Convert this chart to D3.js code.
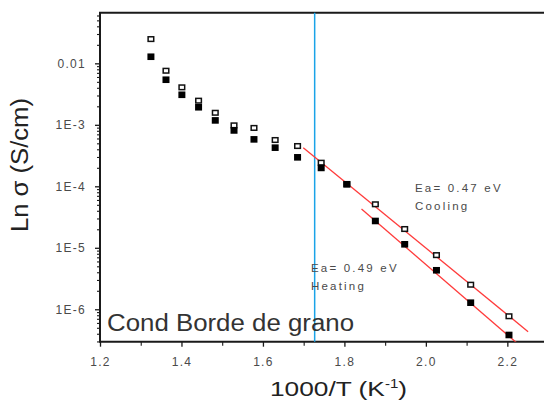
<!DOCTYPE html>
<html>
<head>
<meta charset="utf-8">
<script src="https://cdn.jsdelivr.net/npm/d3@7"></script>
<style>
  html, body { margin: 0; padding: 0; background: #fff; }
  svg { display: block; font-family: 'Liberation Sans', Arial, sans-serif; }
</style>
</head>
<body>
<div id="chart"></div>
<script>
// 1000/T values shared by both runs
const invT = [1.325, 1.362, 1.401, 1.442, 1.483, 1.529, 1.578, 1.630, 1.685, 1.743, 1.806, 1.876, 1.948, 2.026, 2.110, 2.204]
const heating = [1.28e-2, 5.41e-3, 3.08e-3, 1.93e-3, 1.18e-3, 8.1e-4, 5.8e-4, 4.25e-4, 2.96e-4, 1.99e-4, 1.08e-4, 2.73e-5, 1.14e-5, 4.31e-6, 1.28e-6, 3.82e-7]
const cooling = [2.48e-2, 7.58e-3, 4.07e-3, 2.47e-3, 1.57e-3, 9.8e-4, 8.9e-4, 5.66e-4, 4.52e-4, 2.42e-4, 1.08e-4, 5.1e-5, 2.02e-5, 7.6e-6, 2.51e-6, 7.7e-7]
// linear fits (end points)
const fitCooling = [[1.699, 4.24e-4], [2.251, 4.33e-7]]
const fitHeating = [[1.842, 4.27e-5], [2.236, 2.4e-7]]
const transitionT = 1.727
const xTicks = [1.2, 1.4, 1.6, 1.8, 2.0, 2.2]
const xMinor = [1.3, 1.5, 1.7, 1.9, 2.1]
const yTicks = [1e-2, 1e-3, 1e-4, 1e-5, 1e-6]
const yTickLabels = ['0.01', '1E-3', '1E-4', '1E-5', '1E-6']

const W = 544, H = 401
const pLeft = 100, pTop = 12.7, pRight = 544, pBottom = 341.7

const svg = d3.select('#chart').append('svg')
  .attr('width', W)
  .attr('height', H)

const x = d3.scaleLinear().domain([1.2, 2.29]).range([pLeft, pRight])
const y = d3.scaleLog().domain([2.97e-7, 0.0666]).range([pBottom, pTop])

svg.append('clipPath').attr('id', 'plot')
  .append('rect')
  .attr('x', pLeft).attr('y', pTop)
  .attr('width', pRight - pLeft).attr('height', pBottom - pTop)

// minor log ticks 2..9 per decade
let yMinor = []
for (let e = -7; e <= -2; e++) {
  for (let m = 2; m <= 9; m++) {
    let v = m * Math.pow(10, e)
    if (v > y.domain()[0] && v < y.domain()[1]) yMinor.push(v)
  }
}

const axisColor = '#1a1a1a'
const labelColor = '#4a4a4a'

// y axis
let yAxis = svg.append('g')
  .attr('transform', `translate(${pLeft},0)`)
  .call(d3.axisLeft(y).tickValues(yTicks).tickSize(5).tickFormat((d, i) => yTickLabels[i]))
yAxis.select('.domain').remove()
yAxis.selectAll('line').attr('stroke', axisColor).attr('stroke-width', 1.3)
yAxis.selectAll('text')
  .attr('x', -14)
  .attr('fill', labelColor)
  .style('font-size', '12px')
  .style('letter-spacing', '1.3px')
  .style('font-family', 'Liberation Sans, Arial, sans-serif')
svg.append('g')
  .attr('transform', `translate(${pLeft},0)`)
  .call(d3.axisLeft(y).tickValues(yMinor).tickSize(3).tickFormat(''))
  .call(g => g.select('.domain').remove())
  .selectAll('line').attr('stroke', axisColor).attr('stroke-width', 1.1)

// x axis
let xAxis = svg.append('g')
  .attr('transform', `translate(0,${pBottom})`)
  .call(d3.axisBottom(x).tickValues(xTicks).tickSize(5).tickFormat(d3.format('.1f')))
xAxis.select('.domain').remove()
xAxis.selectAll('line').attr('stroke', axisColor).attr('stroke-width', 1.3)
xAxis.selectAll('text')
  .attr('y', 16)
  .attr('fill', labelColor)
  .style('font-size', '12px')
  .style('letter-spacing', '1.3px')
  .style('font-family', 'Liberation Sans, Arial, sans-serif')
svg.append('g')
  .attr('transform', `translate(0,${pBottom})`)
  .call(d3.axisBottom(x).tickValues(xMinor).tickSize(4).tickFormat(''))
  .call(g => g.select('.domain').remove())
  .selectAll('line').attr('stroke', axisColor).attr('stroke-width', 1.1)

// frame: left, bottom, top
svg.append('path')
  .attr('d', `M${pRight},${pTop}H${pLeft}V${pBottom}H${pRight}`)
  .attr('fill', 'none')
  .attr('stroke', axisColor)
  .attr('stroke-width', 2)

// transition marker
svg.append('line')
  .attr('x1', x(transitionT)).attr('x2', x(transitionT))
  .attr('y1', pTop).attr('y2', pBottom)
  .attr('stroke', '#1aa3e8')
  .attr('stroke-width', 1.5)

// fit lines
let line = d3.line().x(d => x(d[0])).y(d => y(d[1]))
svg.selectAll('.fit')
  .data([fitCooling, fitHeating])
  .enter()
  .append('path')
  .attr('class', 'fit')
  .attr('d', line)
  .attr('clip-path', 'url(#plot)')
  .attr('fill', 'none')
  .attr('stroke', '#ff3b3b')
  .attr('stroke-width', 1.3)

// cooling: open squares
svg.selectAll('.cool')
  .data(invT.map((t, i) => [t, cooling[i]]))
  .enter()
  .append('rect')
  .attr('class', 'cool')
  .attr('x', d => x(d[0]) - 2.8)
  .attr('y', d => y(d[1]) - 2.3)
  .attr('width', 5.6)
  .attr('height', 4.6)
  .attr('fill', '#fff')
  .attr('stroke', '#111')
  .attr('stroke-width', 1.5)

// heating: filled squares
svg.selectAll('.heat')
  .data(invT.map((t, i) => [t, heating[i]]))
  .enter()
  .append('rect')
  .attr('class', 'heat')
  .attr('x', d => x(d[0]) - 3.5)
  .attr('y', d => y(d[1]) - 3.3)
  .attr('width', 7)
  .attr('height', 6.6)
  .attr('fill', '#000')

// annotations
let note = (tx, ty, s) => svg.append('text')
  .attr('x', tx).attr('y', ty)
  .attr('fill', labelColor)
  .style('font-size', '11.5px')
  .style('letter-spacing', '2.2px')
  .text(s)
note(415, 191.5, 'Ea= 0.47 eV')
note(415, 209.5, 'Cooling')
note(311, 272, 'Ea= 0.49 eV')
note(311, 290, 'Heating')

svg.append('text')
  .attr('x', 107)
  .attr('y', 331)
  .attr('fill', '#333')
  .attr('textLength', 247)
  .attr('lengthAdjust', 'spacingAndGlyphs')
  .style('font-size', '23px')
  .text('Cond Borde de grano')

// axis titles
let xt = svg.append('text')
  .attr('x', 270)
  .attr('y', 396)
  .attr('fill', '#222')
  .attr('textLength', 137)
  .attr('lengthAdjust', 'spacingAndGlyphs')
  .style('font-size', '21px')
xt.append('tspan').text('1000/T (K')
xt.append('tspan').attr('dy', -8).style('font-size', '12px').text('-1')
xt.append('tspan').attr('dy', 8).text(')')

svg.append('text')
  .attr('transform', 'translate(28,165) rotate(-90)')
  .attr('text-anchor', 'middle')
  .attr('fill', '#222')
  .attr('textLength', 134)
  .attr('lengthAdjust', 'spacingAndGlyphs')
  .style('font-size', '23px')
  .text('Ln σ (S/cm)')
</script>
</body>
</html>
